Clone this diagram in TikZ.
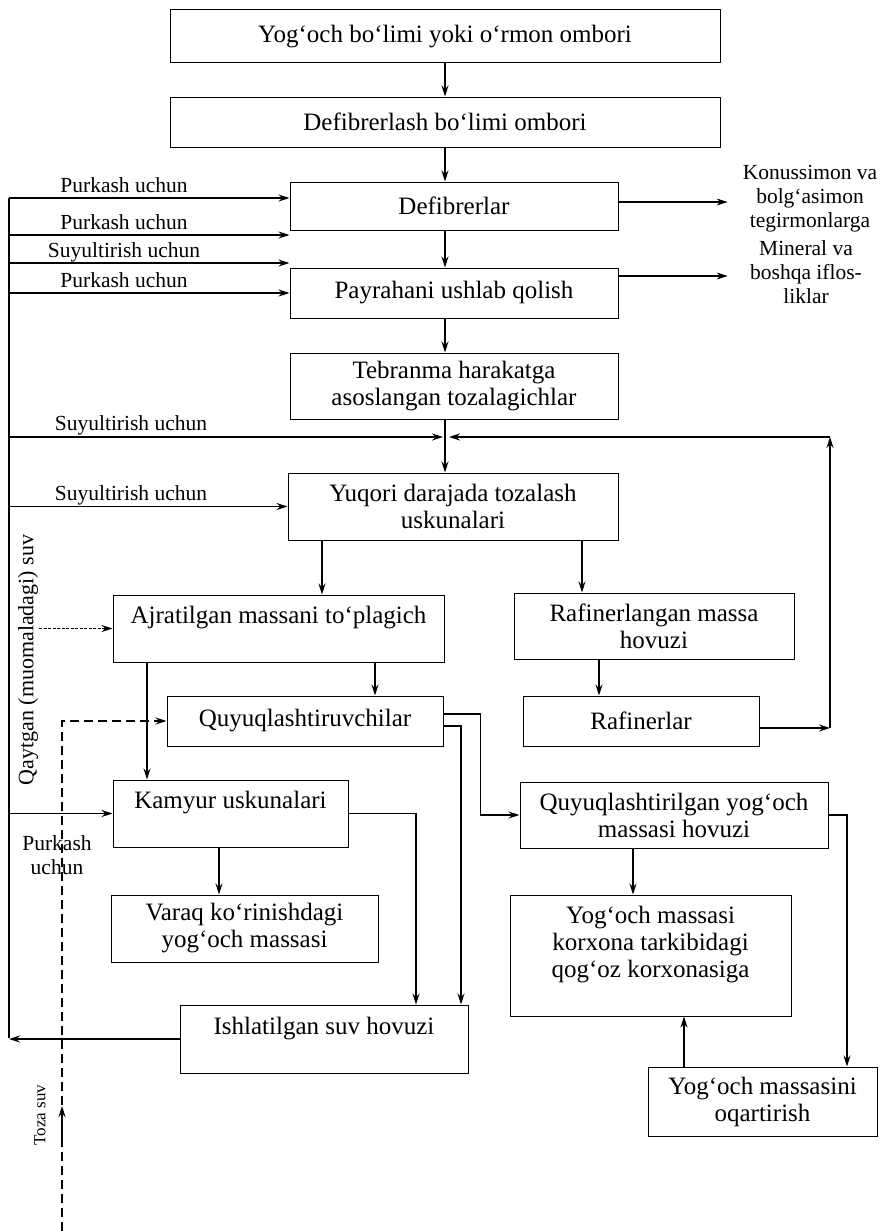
\documentclass[tikz,border=0pt]{standalone}
\usepackage{fontspec}
\setmainfont{Liberation Serif}
\usetikzlibrary{arrows.meta,positioning}
\tikzset{
  box/.style={draw, line width=1pt, inner sep=2pt, align=center, font=\fontsize{25}{27}\selectfont},
  note/.style={font=\fontsize{21.5}{24}\selectfont, align=center, inner sep=1pt},
  flow/.style={line width=1.2pt, -{Stealth[length=11pt,width=7pt]}},
  wire/.style={line width=1.2pt},
  water/.style={line width=1.2pt, dash pattern=on 9pt off 5pt},
}

\begin{document}
\begin{tikzpicture}[x=1pt,y=-1pt]
\useasboundingbox (0,0) rectangle (881,1231);

% main column
\node[box, minimum width=550pt, minimum height=53pt] (store) at (445,36.5) {Yog‘och bo‘limi yoki o‘rmon ombori};
\node[box, minimum width=550pt, minimum height=50pt] (dstore) at (445,122) {Defibrerlash bo‘limi ombori};
\node[box, minimum width=328pt, minimum height=48pt] (defib) at (454,206) {Defibrerlar};
\node[box, minimum width=328pt, minimum height=50pt] (chip) at (454,293) {Payrahani ushlab qolish};
\node[box, minimum width=328pt, minimum height=66pt] (vibr) at (454,386) {Tebranma harakatga\\asoslangan tozalagichlar};
\node[box, minimum width=330pt, minimum height=67pt] (fine) at (453,506.5) {Yuqori darajada tozalash\\uskunalari};

% left branch
\node[box, minimum width=331pt, minimum height=67pt] (rejc) at (278.5,628.5) {Ajratilgan massani to‘plagich\\\mbox{}};
\node[box, minimum width=276pt, minimum height=50pt] (thick) at (305,721) {Quyuqlashtiruvchilar};
\node[box, minimum width=235pt, minimum height=67pt] (kamyr) at (230.5,813.5) {Kamyur uskunalari\\\mbox{}};
\node[box, minimum width=267pt, minimum height=67pt] (sheet) at (244.5,928.5) {Varaq ko‘rinishdagi\\yog‘och massasi};
\node[box, minimum width=288pt, minimum height=68pt] (waste) at (324,1039) {Ishlatilgan suv hovuzi\\\mbox{}};

% right branch
\node[box, minimum width=280pt, minimum height=66pt] (refp) at (654,626) {Rafinerlangan massa\\hovuzi};
\node[box, minimum width=236pt, minimum height=50pt] (refn) at (641,721) {Rafinerlar};
\node[box, minimum width=308pt, minimum height=66pt] (thkp) at (674,815) {Quyuqlashtirilgan yog‘och\\massasi hovuzi};
\node[box, minimum width=281pt, minimum height=121pt] (mill) at (650.5,955.5) {Yog‘och massasi\\korxona tarkibidagi\\qog‘oz korxonasiga\\\mbox{}};
\node[box, minimum width=229pt, minimum height=69pt] (bleach) at (762.5,1101.5) {Yog‘och massasini\\oqartirish};

% side texts
\node[note] (cone) at (810,199) {Konussimon va\\bolg‘asimon\\tegirmonlarga};
\node[note] (dirt) at (806,272) {Mineral va\\boshqa iflos-\\liklar};
\node[note, rotate=90, font=\fontsize{22}{24}\selectfont] (backw) at (28,660) {Qaytgan (muomaladagi) suv};
\node[note, rotate=90, font=\fontsize{17}{20}\selectfont] (clean) at (40,1115) {Toza suv};
\node[note] (spray) at (57,855) {Purkash\\uchun};

% water bus on the left
\coordinate (b1) at (9,198);
\coordinate (bret) at (9,1038);
\coordinate (jn) at (445,437);
\coordinate (fb) at (830,437);
\draw[wire] (b1) -- (bret);
\foreach \y/\txt in {198/Purkash uchun, 235/Purkash uchun, 263/Suyultirish uchun, 293/Purkash uchun}{
  \draw[flow] (b1 |- 0,\y) -- (defib.west |- 0,\y);
  \node[note, anchor=base] at (124,\y-6) {\txt};
}
\draw[flow, shorten >=2pt] (b1 |- jn) -- (jn);
\node[note, anchor=base] at (131,430) {Suyultirish uchun};
\draw[flow] (fine.west -| b1) -- (fine.west);
\node[note, anchor=base] at (131,500) {Suyultirish uchun};
\draw[flow] (kamyr.west -| b1) -- (kamyr.west);
\draw[flow] (waste.west) -- (waste.west -| bret);

% main column arrows
\draw[flow] (store.south -| jn) -- (dstore.north -| jn);
\draw[flow] (dstore.south -| jn) -- (defib.north -| jn);
\draw[flow] (defib.south -| jn) -- (chip.north -| jn);
\draw[flow] (chip.south -| jn) -- (vibr.north -| jn);
\draw[flow] (vibr.south -| jn) -- (fine.north -| jn);
\draw[flow, shorten >=14pt] ([yshift=4pt]defib.east) -- ([yshift=4pt]defib.east -| cone.west);
\draw[flow, shorten >=14pt] ([yshift=17pt]chip.east) -- ([yshift=17pt]chip.east -| cone.west);

% refining loop
\draw[flow] (fine.south -| 322,0) -- (rejc.north -| 322,0);
\draw[flow] (fine.south -| 582,0) -- (refp.north -| 582,0);
\draw[flow] (refp.south -| 599,0) -- (refn.north -| 599,0);
\draw[flow] ([yshift=-7pt]refn.east) -- ([yshift=-7pt]refn.east -| fb);
\draw[flow] ([yshift=-7pt]refn.east -| fb) -- (fb);
\draw[flow, shorten >=4pt] (fb) -- (jn);

% rejects and thickening
\draw[flow] (rejc.south -| 147,0) -- (kamyr.north -| 147,0);
\draw[flow] (rejc.south -| 375,0) -- (thick.north -| 375,0);
\draw[flow] ([yshift=7pt]thick.east) -- ++(37,0) |- (thkp.west);
\draw[flow] ([yshift=-5pt]thick.east) -| (waste.north -| 461,0);
\draw[flow] (kamyr.east) -| (waste.north -| 416,0);
\draw[flow] (kamyr.south -| 219,0) -- (sheet.north -| 219,0);
\draw[flow] (thkp.south -| 633,0) -- (mill.north -| 633,0);
\draw[flow] (thkp.east) -| (bleach.north -| 847,0);
\draw[flow, line width=1.6pt] (bleach.north -| 684,0) -- (mill.south -| 684,0);

% returned and clean water
\draw[flow, dash pattern=on 3pt off 1.5pt] (backw.south |- rejc.west) -- (rejc.west);
\coordinate (cw) at (62,1231);
\coordinate (cw1) at (62,1145);
\coordinate (cw2) at (62,1106);
\draw[water, -{Stealth[length=11pt,width=7pt]}] (cw) |- (thick.west);
\draw[flow] (cw1) -- (cw2);
\end{tikzpicture}
\end{document}
